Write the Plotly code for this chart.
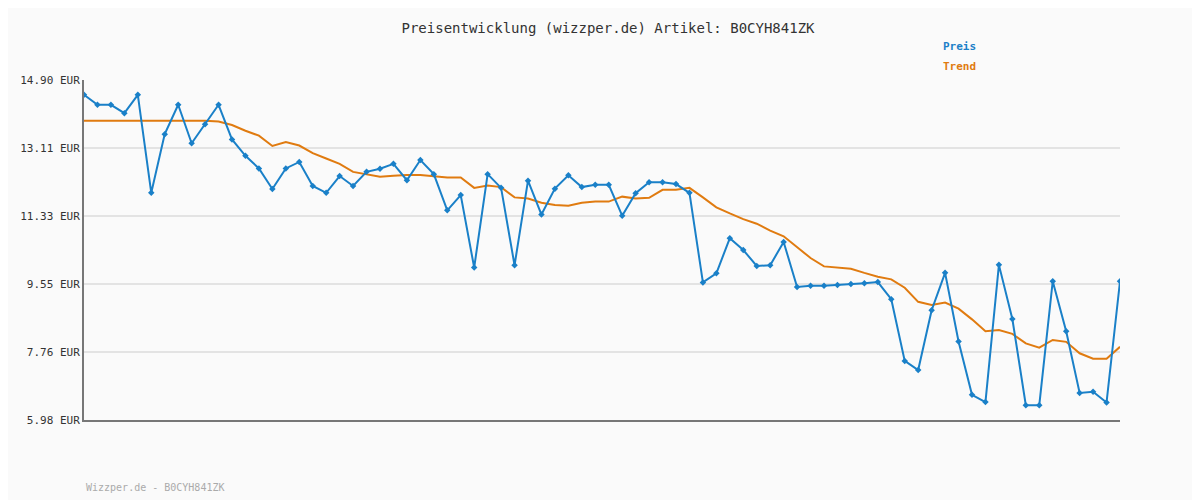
import plotly.graph_objects as go

# Preisverlauf
preis = [14.51, 14.25, 14.25, 14.03, 14.51, 11.94, 13.48, 14.25, 13.24, 13.74,
         14.25, 13.34, 12.91, 12.58, 12.04, 12.58, 12.75, 12.12, 11.94, 12.38,
         12.12, 12.49, 12.57, 12.70, 12.27, 12.80, 12.43, 11.48, 11.88, 9.98,
         12.43, 12.07, 10.04, 12.26, 11.37, 12.05, 12.40, 12.09, 12.15, 12.15,
         11.34, 11.93, 12.22, 12.22, 12.17, 11.94, 9.59, 9.83, 10.75, 10.44,
         10.02, 10.04, 10.65, 9.47, 9.50, 9.50, 9.52, 9.55, 9.57, 9.60,
         9.15, 7.53, 7.29, 8.86, 9.84, 8.04, 6.64, 6.45, 10.05, 8.63,
         6.37, 6.37, 9.62, 8.31, 6.69, 6.72, 6.44, 9.62]
trend = [13.83, 13.83, 13.83, 13.83, 13.83, 13.83, 13.83, 13.83, 13.83, 13.83,
         13.81, 13.72, 13.57, 13.44, 13.17, 13.27, 13.18, 12.98, 12.84, 12.70,
         12.49, 12.42, 12.36, 12.39, 12.41, 12.41, 12.38, 12.34, 12.34, 12.07,
         12.13, 12.09, 11.82, 11.79, 11.68, 11.62, 11.60, 11.68, 11.71, 11.71,
         11.84, 11.79, 11.81, 12.02, 12.02, 12.07, 11.82, 11.56, 11.40, 11.25,
         11.13, 10.95, 10.80, 10.51, 10.23, 10.01, 9.98, 9.95, 9.84, 9.74,
         9.67, 9.45, 9.08, 9.00, 9.06, 8.90, 8.62, 8.31, 8.34, 8.24,
         7.99, 7.88, 8.08, 8.03, 7.73, 7.59, 7.59, 7.90]
x = list(range(len(preis)))
yticks = [5.98, 7.76, 9.55, 11.33, 13.11, 14.90]
ytext = ["%.2f EUR" % v for v in yticks]

BLUE = "#1a80c8"
ORANGE = "#e07b10"
FONT = "DejaVu Sans Mono"

fig = go.Figure()
fig.add_trace(go.Scatter(x=x, y=trend, mode="lines", line=dict(color=ORANGE, width=2),
                         hoverinfo="skip", showlegend=False))
fig.add_trace(go.Scatter(x=x, y=preis, mode="lines+markers", line=dict(color=BLUE, width=2),
                         marker=dict(symbol="diamond", size=5, color=BLUE), showlegend=False))

# Seite hat 8px Rand, deshalb Plotfläche entsprechend verschoben
fig.update_layout(
    width=1200, height=500,
    paper_bgcolor="#fafafa", plot_bgcolor="#fafafa",
    margin=dict(l=72, r=88, t=72, b=88),
    font=dict(family=FONT, size=11, color="#333"),
    title=dict(text="Preisentwicklung (wizzper.de) Artikel: B0CYH841ZK", x=0.5, y=0.96,
               xanchor="center", yanchor="middle", font=dict(family=FONT, size=14, color="#333")),
    xaxis=dict(range=[0, len(preis) - 1], showticklabels=False, showgrid=False, zeroline=False,
               showline=True, linecolor="#777", linewidth=2),
    yaxis=dict(range=[5.98, 14.90], tickvals=yticks, ticktext=ytext, showgrid=True,
               gridcolor="#e3e3e3", gridwidth=2, zeroline=False, showline=True,
               linecolor="#777", linewidth=2, ticks="", tickfont=dict(size=11, color="#333")),
)

# Legende und Fusszeile als Text (Pixel relativ zur Plotfläche 80..1120 / 80..420)
for txt, px, py, c, s in [("<b>Preis</b>", 940, 47, BLUE, 11),
                          ("<b>Trend</b>", 940, 67, ORANGE, 11),
                          ("Wizzper.de - B0CYH841ZK", 80, 487, "#aaa", 10)]:
    fig.add_annotation(text=txt, xref="paper", yref="paper", x=(px - 80) / 1040,
                       y=(420 - py) / 340, xanchor="left", yanchor="middle", showarrow=False,
                       font=dict(family=FONT, size=s, color=c))

fig.write_html("out.html")
